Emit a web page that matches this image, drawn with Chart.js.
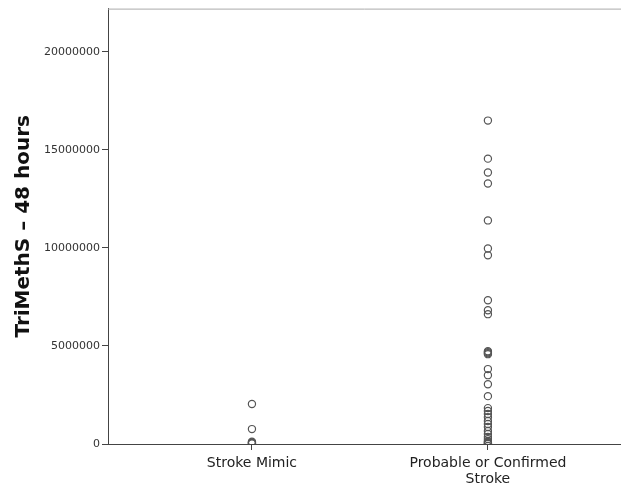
<!DOCTYPE html>
<html>
<head>
	<style type="text/css">
	body{
		margin: 0;
		background: #fff;
		font-family: "DejaVu Sans";
	}
	</style>
    <title>TriMethS - 48 hours</title>
    <script type="text/javascript" src="https://cdn.jsdelivr.net/npm/chart.js@4/dist/chart.umd.min.js"></script>
</head>
<body>
<div id="chartContainer" style='width: 621px; height: 487px;'>
	<canvas id="myChart"></canvas>
</div>
<script type="text/javascript">
    var categories = ['Stroke Mimic', ['Probable or Confirmed', 'Stroke']];
    var mimicValues = [2040000, 760000, 120000, 80000, 50000, 20000];
    var strokeValues = [
        16490000, 14550000, 13840000, 13280000, 11400000, 9970000, 9620000,
        7330000, 6820000, 6620000, 4730000, 4680000, 4630000, 4580000,
        3820000, 3510000, 3050000, 2440000, 1830000, 1680000, 1530000,
        1370000, 1170000, 1020000, 870000, 660000, 510000, 360000,
        250000, 150000, 100000, 50000, 20000
    ];
    var yTicks = [0, 5000000, 10000000, 15000000, 20000000];

    function toPoints(values, idx) {
        var pts = [];
        for (var i = 0; i < values.length; ++i) {
            pts.push({x: idx, y: values[i]});
        }
        return pts;
    }

    // light frame line along the top of the plot
    var topLine = {
        id: 'topLine',
        afterDraw: function (chart) {
            var a = chart.chartArea, ctx = chart.ctx;
            ctx.save();
            ctx.strokeStyle = '#aaa';
            ctx.lineWidth = 1;
            ctx.beginPath();
            ctx.moveTo(a.left, a.top + 0.5);
            ctx.lineTo(a.right, a.top + 0.5);
            ctx.stroke();
            ctx.restore();
        }
    };

    var pointStyle = {
        showLine: false,
        pointRadius: 3.6,
        pointHoverRadius: 3.6,
        pointBorderWidth: 1.2,
        borderColor: '#555',
        backgroundColor: 'rgba(255,255,255,0)'
    };

    var context = document.getElementById('myChart').getContext('2d');
    var chart = new Chart(context, {
        type: 'scatter',
        data: {
            datasets: [
                Object.assign({label: 'Stroke Mimic', data: toPoints(mimicValues, 0)}, pointStyle),
                Object.assign({label: 'Probable or Confirmed Stroke', data: toPoints(strokeValues, 1)}, pointStyle)
            ]
        },
        options: {
            responsive: true,
            maintainAspectRatio: false,
            animation: false,
            layout: {autoPadding: false, padding: {top: 8, right: 0, left: 0, bottom: 0}},
            plugins: {legend: {display: false}, tooltip: {enabled: false}},
            scales: {
                x: {
                    type: 'linear',
                    min: -0.61,
                    max: 1.564,
                    afterBuildTicks: function (scale) {
                        scale.ticks = categories.map(function (c, i) { return {value: i}; });
                    },
                    afterFit: function (scale) { scale.height = 43; },
                    grid: {drawOnChartArea: false, drawTicks: true, tickLength: 6, color: '#444'},
                    border: {display: true, color: '#444', width: 1},
                    ticks: {
                        autoSkip: false,
                        maxRotation: 0,
                        padding: 6,
                        color: '#222',
                        font: {family: 'DejaVu Sans', size: 14, lineHeight: 1.1},
                        callback: function (v) { return categories[v]; }
                    }
                },
                y: {
                    min: 0,
                    max: 22200000,
                    afterBuildTicks: function (scale) {
                        scale.ticks = yTicks.map(function (v) { return {value: v}; });
                    },
                    afterFit: function (scale) { scale.width = 108; },
                    grid: {drawOnChartArea: false, drawTicks: true, tickLength: 6, color: '#444'},
                    border: {display: true, color: '#444', width: 1},
                    ticks: {
                        padding: 2,
                        color: '#333',
                        font: {family: 'DejaVu Sans', size: 11},
                        callback: function (v) { return String(v); }
                    },
                    title: {
                        display: true,
                        text: 'TriMethS \u2013 48 hours',
                        color: '#111',
                        padding: {top: 12, bottom: 0},
                        font: {family: 'DejaVu Sans', size: 20, weight: 'bold'}
                    }
                }
            }
        },
        plugins: [topLine]
    });
</script>
</body>
</html>
